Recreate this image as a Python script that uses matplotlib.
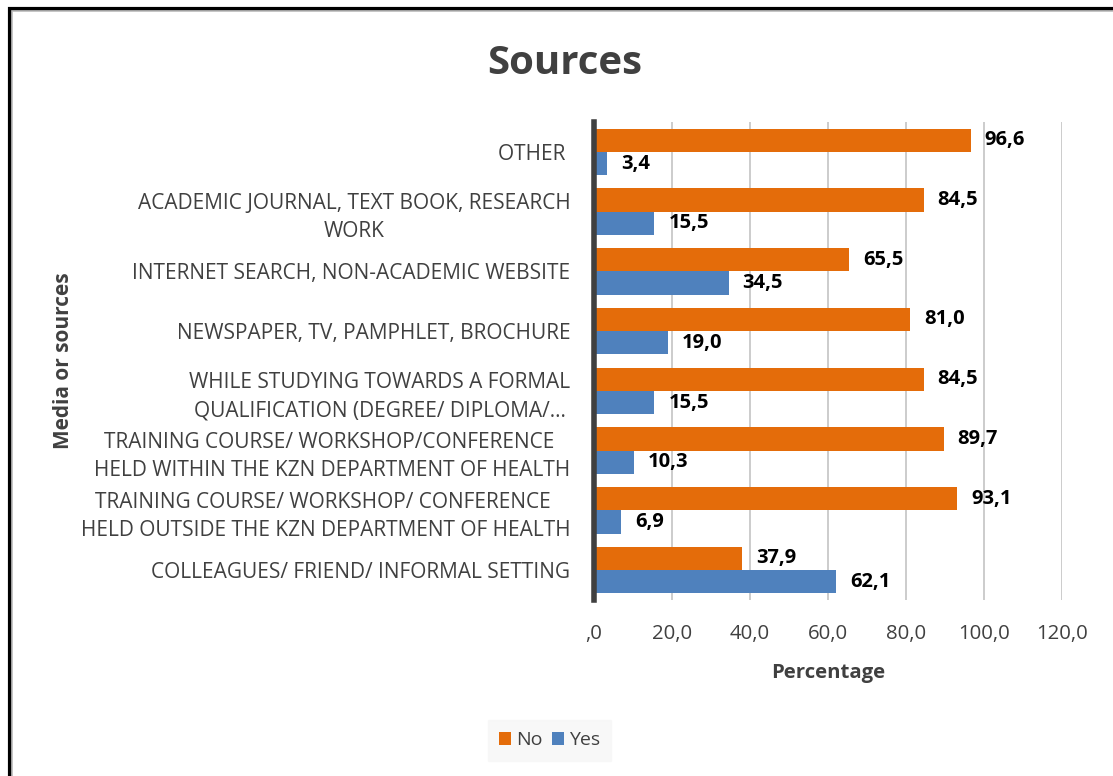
import matplotlib
matplotlib.use("Agg")
import matplotlib.pyplot as plt
import numpy as np
from matplotlib.patches import Rectangle

plt.rcParams['font.family'] = ['Open Sans', 'DejaVu Sans']

# categories, top to bottom
categories = [
    "OTHER ",
    "ACADEMIC JOURNAL, TEXT BOOK, RESEARCH\nWORK",
    "INTERNET SEARCH, NON-ACADEMIC WEBSITE",
    "NEWSPAPER, TV, PAMPHLET, BROCHURE",
    "WHILE STUDYING TOWARDS A FORMAL\nQUALIFICATION (DEGREE/ DIPLOMA/…",
    "TRAINING COURSE/ WORKSHOP/CONFERENCE \nHELD WITHIN THE KZN DEPARTMENT OF HEALTH",
    "TRAINING COURSE/ WORKSHOP/ CONFERENCE \nHELD OUTSIDE THE KZN DEPARTMENT OF HEALTH",
    "COLLEAGUES/ FRIEND/ INFORMAL SETTING",
]
no_vals = [96.6, 84.5, 65.5, 81.0, 84.5, 89.7, 93.1, 37.9]
yes_vals = [3.4, 15.5, 34.5, 19.0, 15.5, 10.3, 6.9, 62.1]
xticks = [0, 20, 40, 60, 80, 100, 120]

orange = '#E46C0A'
blue = '#4F81BD'
txt = '#404040'

fig = plt.figure(figsize=(11.13, 7.76), dpi=100)
ax = fig.add_axes([0.5337, 0.2268, 0.4205, 0.616])

y = np.arange(len(categories))
h = 0.39
b1 = ax.barh(y - h / 2, no_vals, height=h, color=orange, label='No', zorder=3)
b2 = ax.barh(y + h / 2, yes_vals, height=h, color=blue, label='Yes', zorder=3)

for bars, vals in [(b1, no_vals), (b2, yes_vals)]:
    for bar, v in zip(bars, vals):
        ax.annotate(f"{v:.1f}".replace('.', ','),
                    (bar.get_width(), bar.get_y() + bar.get_height() / 2),
                    xytext=(10, 0), textcoords='offset points',
                    ha='left', va='center', fontsize=14.5, fontweight='bold', color='black')

ax.set_ylim(len(categories) - 0.5, -0.5)
ax.set_xlim(0, 120)
ax.set_xticks(xticks)
ax.set_xticklabels([",0" if t == 0 else f"{t:.1f}".replace('.', ',') for t in xticks],
                   fontsize=14.7, color=txt)
ax.set_yticks(y)
ax.set_yticklabels(categories, fontsize=15, color=txt, multialignment='center',
                   linespacing=1.45)
ax.tick_params(axis='both', length=0)
ax.tick_params(axis='x', pad=17)
ax.tick_params(axis='y', pad=17)

ax.grid(axis='x', color='#c8c8c8', linewidth=1.3, zorder=0)
for s in ['top', 'right', 'bottom']:
    ax.spines[s].set_visible(False)
ax.spines['left'].set_color('#404040')
ax.spines['left'].set_linewidth(4)
ax.spines['left'].set_zorder(4)

ax.set_xlabel('Percentage', fontsize=14.7, fontweight='bold', color=txt, labelpad=14)
fig.text(0.057, 0.535, 'Media or sources', rotation=90, fontsize=15, fontweight='bold',
         color=txt, ha='center', va='center')
fig.text(0.507, 0.918, 'Sources', fontsize=29, fontweight='bold', color=txt,
         ha='center', va='center')

leg = ax.legend(loc='center', bbox_to_anchor=(549.5 / 1113, 0.046), bbox_transform=fig.transFigure,
                ncol=2, frameon=True, fontsize=14, handlelength=0.6, handleheight=0.6,
                handletextpad=0.25, columnspacing=0.5, borderpad=0.6)
leg.get_frame().set_facecolor('#f7f7f7')
leg.get_frame().set_edgecolor('#f7f7f7')
leg.get_frame().set_boxstyle('square', pad=0)
for t in leg.get_texts():
    t.set_color(txt)

# outer frame
fig.patches.append(Rectangle((9.5 / 1113, -0.1), 1.2, 1 - 9.5 / 776 + 0.1, transform=fig.transFigure,
                             fill=False, edgecolor='black', linewidth=3))
fig.patches.append(Rectangle((11.5 / 1113, -0.1), 1.2, 1 - 11.5 / 776 + 0.1, transform=fig.transFigure,
                             fill=False, edgecolor='#bfbfbf', linewidth=1.2))

fig.savefig('out.png', dpi=100)
